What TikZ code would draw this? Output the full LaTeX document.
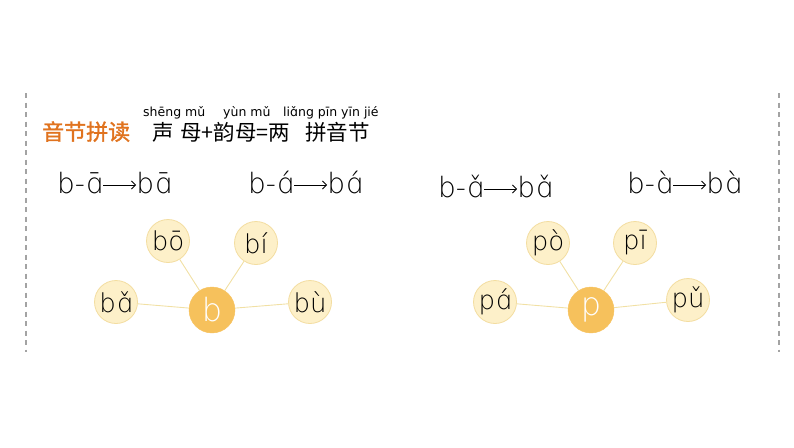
\documentclass[tikz,border=0pt]{standalone}
\usepackage{fontspec}
\setmainfont{DejaVu Sans ExtraLight}
\newfontfamily\pyfont{DejaVu Sans}
\newfontfamily\cjk{Noto Sans CJK SC}
\newfontfamily\cjkb{Noto Sans CJK SC}[FakeBold=1.5]
\usetikzlibrary{positioning, arrows.meta}
\definecolor{arancio}{HTML}{E0731F}
\definecolor{crema}{HTML}{FDF0C9}
\definecolor{bordo}{HTML}{F3DDA0}
\definecolor{oro}{HTML}{F6C15C}
\definecolor{raggio}{HTML}{F1E0A4}
\definecolor{tratteggio}{HTML}{A3A3A3}

\begin{document}
\begin{tikzpicture}[x=1pt, y=-1pt,
	foglia/.style={circle, draw=bordo, fill=crema, line width=0.8pt, minimum size=43pt, inner sep=0pt, font=\fontsize{26}{26}\selectfont},
	centro/.style={circle, draw=oro, fill=oro, minimum size=46pt, inner sep=0pt, text=white, font=\fontsize{32}{32}\selectfont},
	raggio/.style={draw=raggio, line width=0.9pt},
	sillaba/.style={anchor=base west, inner sep=0pt, font=\fontsize{28}{28}\selectfont},
	freccia/.style={line width=0.8pt, -{Straight Barb[length=4pt, width=8pt]}},
	pinyin/.style={anchor=base west, inner sep=0pt, font=\pyfont\fontsize{12.5}{12.5}\selectfont},
	hanzi/.style={anchor=base west, inner sep=0pt, font=\cjk\fontsize{21.5}{21.5}\selectfont}]
				\useasboundingbox (0,0) rectangle (794,447);
				
				% Bordi tratteggiati
				\draw[tratteggio, line width=1.6pt, dash pattern=on 5pt off 4.5pt] (26,93) -- (26,352);
				\draw[tratteggio, line width=1.6pt, dash pattern=on 5pt off 4.5pt] (779,93) -- (779,352);
				
				% Titolo
				\node[anchor=base west, inner sep=0pt, text=arancio, font=\cjkb\fontsize{22}{22}\selectfont] (titolo) at (42,140) {音节拼读};
				\node[hanzi] (sheng) at (152,140) {声};
				\node[hanzi] (formula) at (180,140) {母+韵母=两};
				\node[hanzi] (pinyinzi) at (305,140) {拼音节};
				\node[pinyin] (py1) at (143,116) {shēng mǔ};
				\node[pinyin] (py2) at (223,116) {yùn mǔ};
				\node[pinyin] (py3) at (283,116) {liɑ̌ng pīn yīn jié};
				
				% Sillabe
				\node[sillaba] (s1a) at (57,193) {b-ɑ̄};
				\node[sillaba] (s1b) at ([xshift=33pt]s1a.base east) {bɑ̄};
				\draw[freccia] ([yshift=8pt]s1a.base east) -- ([yshift=8pt]s1b.base west);
				
				\node[sillaba] (s2a) at (248,193) {b-ɑ́};
				\node[sillaba] (s2b) at ([xshift=33pt]s2a.base east) {bɑ́};
				\draw[freccia] ([yshift=8pt]s2a.base east) -- ([yshift=8pt]s2b.base west);
				
				\node[sillaba] (s3a) at (438,197) {b-ɑ̌};
				\node[sillaba] (s3b) at ([xshift=33pt]s3a.base east) {bɑ̌};
				\draw[freccia] ([yshift=8pt]s3a.base east) -- ([yshift=8pt]s3b.base west);
				
				\node[sillaba] (s4a) at (627,193) {b-ɑ̀};
				\node[sillaba] (s4b) at ([xshift=33pt]s4a.base east) {bɑ̀};
				\draw[freccia] ([yshift=8pt]s4a.base east) -- ([yshift=8pt]s4b.base west);
				
				% Gruppo b
				\node[centro] (b) at (212,310) {b};
				\node[foglia] (bo) at (168,241) {bō};
				\node[foglia] (bi) at (256,243) {bí};
				\node[foglia] (ba) at (116,302) {bɑ̌};
				\node[foglia] (bu) at (310,302) {bù};
				\draw[raggio] (b) -- (bo);
				\draw[raggio] (b) -- (bi);
				\draw[raggio] (b) -- (ba);
				\draw[raggio] (b) -- (bu);
				
				% Gruppo p
				\node[centro] (p) at (591,310) {p};
				\node[foglia] (po) at (548,243) {pò};
				\node[foglia] (pi) at (635,243) {pī};
				\node[foglia] (pa) at (495,302) {pɑ́};
				\node[foglia] (pu) at (688,300) {pǔ};
				\draw[raggio] (p) -- (po);
				\draw[raggio] (p) -- (pi);
				\draw[raggio] (p) -- (pa);
				\draw[raggio] (p) -- (pu);
			\end{tikzpicture}
\end{document}
